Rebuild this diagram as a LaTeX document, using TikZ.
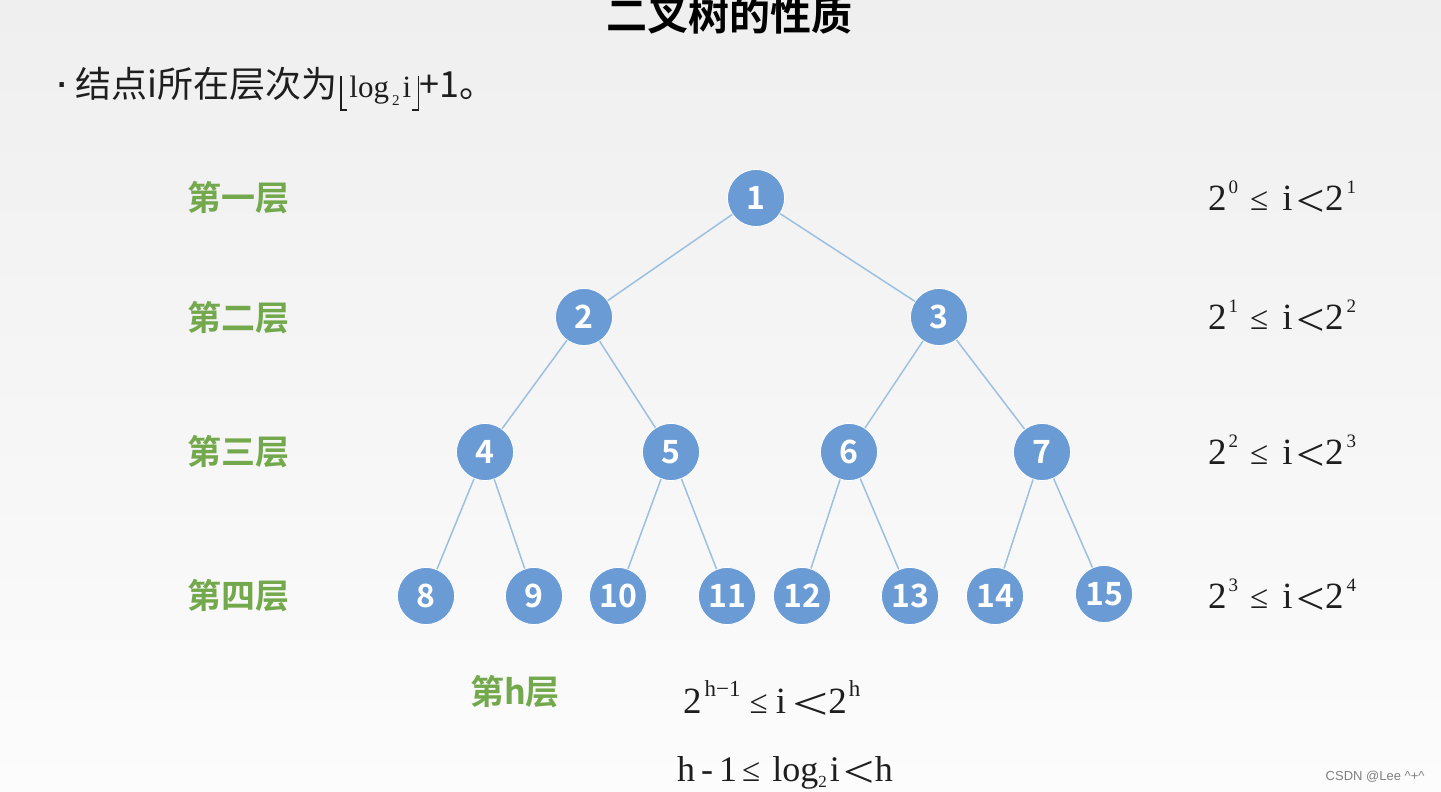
\documentclass[tikz,border=0pt]{standalone}
\usepackage{fontspec}
\usepackage{graphicx}
\usepackage{tikz}
\newfontfamily\cjk{Noto Sans CJK SC}[BoldFont={Noto Sans CJK SC Bold}]
\newfontfamily\fonteTimes{Liberation Serif}
\newfontfamily\fonteArial{Liberation Sans}
\definecolor{AzulNo}{HTML}{6A9BD4}
\definecolor{AzulAresta}{HTML}{9DC0E2}
\definecolor{VerdeNivel}{HTML}{73A94C}
\definecolor{CinzaTopo}{HTML}{EFEFEF}
\definecolor{CinzaBase}{HTML}{FCFCFC}
\definecolor{Texto}{HTML}{1E1E1E}

\newcommand{\pot}[2][19]{\raisebox{17pt}{\fontsize{#1}{#1}\selectfont #2}}
\newcommand{\menor}[1][1.1]{\raisebox{-6pt}[20pt][0pt]{\scalebox{#1}[1]{\fontsize{46}{46}\selectfont <}}}
\newcommand{\menorigual}{{\fontsize{33}{33}\selectfont ≤}}
\newcommand{\faixa}[2]{2\hspace{2pt}\pot{#1}\hspace{12pt}\menorigual\hspace{14pt}i\hspace{4pt}\menor{}2\hspace{3pt}\pot{#2}}
\newcommand{\pisoEsq}{\rlap{\rule[-14pt]{1.6pt}{35pt}}\rule[-14pt]{7pt}{1.6pt}}
\newcommand{\pisoDir}{\rule[-14pt]{7pt}{1.6pt}\llap{\rule[-14pt]{1.6pt}{35pt}}}

\begin{document}
\begin{tikzpicture}[
    x=1pt, y=-1pt,
    bola/.style={
        circle,
        fill=AzulNo,
        draw=white,
        line width=0.8pt,
        minimum size=57pt,
        inner sep=0pt,
        text=white,
        font=\cjk\bfseries\fontsize{32}{32}\selectfont
    },
    nivel/.style={
        text=VerdeNivel,
        font=\cjk\bfseries\fontsize{34}{34}\selectfont
    },
    aresta/.style={draw=AzulAresta, line width=1.5pt},
    faixa/.style={
        anchor=base west,
        inner sep=0pt,
        text=Texto,
        font=\fonteTimes\fontsize{37}{37}\selectfont
    }
]
    \useasboundingbox (0,0) rectangle (1441,792);
    \shade[top color=CinzaTopo, bottom color=CinzaBase] (0,0) rectangle (1441,792);

    % titulo e regra
    \node[font=\cjk\bfseries\fontsize{41}{41}\selectfont, text=black] (titulo) at (729,15) {二叉树的性质};
    \node[
        anchor=base west,
        inner sep=0pt,
        text=Texto,
        font=\cjk\fontsize{36}{36}\selectfont
    ] (regra) at (54,97) {{\fonteArial\fontsize{46}{46}\selectfont ·}\hspace{6pt}结点i所在层次为\hspace{3pt}\pisoEsq{\fonteTimes\fontsize{31}{31}\selectfont\hspace{2pt}log\hspace{3pt}\raisebox{-8pt}{\fontsize{15}{15}\selectfont 2}\hspace{3pt}i\hspace{1pt}}\pisoDir+1。};

    % niveis
    \node[nivel] (nivel1) at (238,198) {第一层};
    \node[nivel] (nivel2) at (238,318) {第二层};
    \node[nivel] (nivel3) at (238,452) {第三层};
    \node[nivel] (nivel4) at (238,596) {第四层};
    \node[nivel] (nivelh) at (515,692) {第h层};

    % nos
    \node[bola] (n1) at (756,198) {1};
    \node[bola] (n2) at (584,317) {2};
    \node[bola] (n3) at (939,317) {3};
    \node[bola] (n4) at (485,452) {4};
    \node[bola] (n5) at (671,452) {5};
    \node[bola] (n6) at (849,452) {6};
    \node[bola] (n7) at (1042,452) {7};
    \node[bola] (n8) at (426,596) {8};
    \node[bola] (n9) at (534,596) {9};
    \node[bola] (n10) at (618,596) {10};
    \node[bola] (n11) at (727,596) {11};
    \node[bola] (n12) at (802,596) {12};
    \node[bola] (n13) at (910,596) {13};
    \node[bola] (n14) at (995,596) {14};
    \node[bola] (n15) at (1104,594) {15};

    % arestas
    \draw[aresta] (n1) -- (n2);  \draw[aresta] (n1) -- (n3);
    \draw[aresta] (n2) -- (n4);  \draw[aresta] (n2) -- (n5);
    \draw[aresta] (n3) -- (n6);  \draw[aresta] (n3) -- (n7);
    \draw[aresta] (n4) -- (n8);  \draw[aresta] (n4) -- (n9);
    \draw[aresta] (n5) -- (n10); \draw[aresta] (n5) -- (n11);
    \draw[aresta] (n6) -- (n12); \draw[aresta] (n6) -- (n13);
    \draw[aresta] (n7) -- (n14); \draw[aresta] (n7) -- (n15);

    % intervalos
    \node[faixa] (faixa1) at (1208,210) {\faixa{0}{1}};
    \node[faixa] (faixa2) at (1208,329) {\faixa{1}{2}};
    \node[faixa] (faixa3) at (1208,464) {\faixa{2}{3}};
    \node[faixa] (faixa4) at (1208,608) {\faixa{3}{4}};
    \node[faixa] (faixah) at (683,713)
        {2\hspace{3pt}\pot[23]{h−1}\hspace{9pt}\menorigual\hspace{8pt}i\hspace{6pt}\menor[1.4]{}2\hspace{2pt}\pot[23]{h}};
    \node[faixa, font=\fonteTimes\fontsize{36}{36}\selectfont] (logh) at (677,781)
        {h\hspace{6pt}-\hspace{6pt}1\hspace{5pt}\menorigual\hspace{12pt}log\raisebox{-6pt}{\fontsize{17}{17}\selectfont 2}\hspace{3pt}i\hspace{4pt}\menor[1.2]{}h};

    \node[anchor=east, text=gray, font=\fonteArial\fontsize{13}{13}\selectfont] (marca) at (1428,777) {CSDN @Lee \textasciicircum+\textasciicircum};
\end{tikzpicture}
\end{document}
